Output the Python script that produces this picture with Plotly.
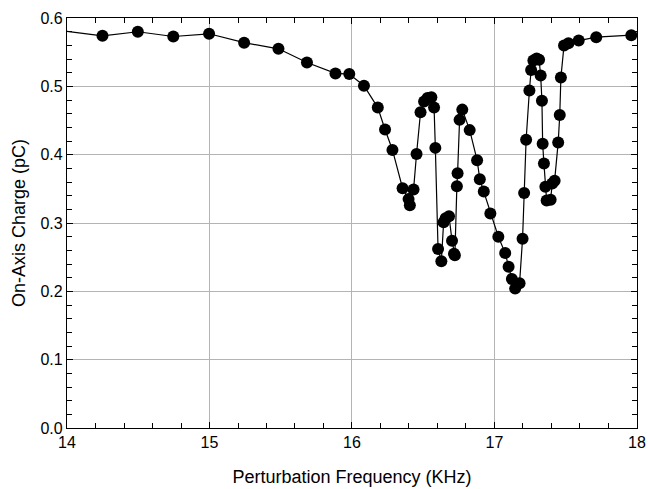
import plotly.graph_objects as go

freq_khz = [13.95, 14.249, 14.497, 14.746, 14.997, 15.243, 15.484, 15.684, 15.884, 15.981,
            16.084, 16.181, 16.232, 16.284, 16.355, 16.397, 16.406, 16.432, 16.453, 16.481,
            16.506, 16.530, 16.557, 16.576, 16.585, 16.604, 16.627, 16.643, 16.657, 16.681,
            16.702, 16.716, 16.722, 16.736, 16.741, 16.755, 16.774, 16.826, 16.878, 16.897,
            16.925, 16.971, 17.027, 17.075, 17.099, 17.122, 17.145, 17.176, 17.197, 17.208,
            17.222, 17.245, 17.257, 17.273, 17.296, 17.313, 17.324, 17.333, 17.338, 17.347,
            17.357, 17.366, 17.394, 17.405, 17.422, 17.447, 17.458, 17.466, 17.488, 17.519,
            17.591, 17.714, 17.960]
charge_pc = [0.582, 0.574, 0.580, 0.573, 0.577, 0.564, 0.555, 0.535, 0.519, 0.518,
             0.501, 0.469, 0.437, 0.407, 0.351, 0.335, 0.326, 0.349, 0.401, 0.462,
             0.478, 0.483, 0.484, 0.469, 0.410, 0.262, 0.244, 0.301, 0.307, 0.310,
             0.274, 0.255, 0.253, 0.354, 0.373, 0.451, 0.466, 0.436, 0.392, 0.364,
             0.346, 0.314, 0.280, 0.256, 0.236, 0.218, 0.204, 0.212, 0.277, 0.344,
             0.422, 0.494, 0.524, 0.538, 0.541, 0.539, 0.516, 0.479, 0.416, 0.387,
             0.353, 0.333, 0.334, 0.358, 0.362, 0.418, 0.458, 0.513, 0.560, 0.563,
             0.567, 0.572, 0.575]
x_ticks = [14, 15, 16, 17, 18]
y_ticks = [0.0, 0.1, 0.2, 0.3, 0.4, 0.5, 0.6]

fig = go.Figure(go.Scatter(
    x=freq_khz, y=charge_pc, mode="lines+markers",
    line=dict(color="black", width=1.2),
    marker=dict(color="black", size=12),
    showlegend=False,
))

axis_common = dict(
    showline=True, linecolor="black", linewidth=1.2, mirror="ticks",
    ticks="inside", ticklen=6, tickcolor="black", tickwidth=1,
    showgrid=True, gridcolor="#b4b4b4", gridwidth=1, zeroline=False,
    tickfont=dict(family="Liberation Sans, Arial", size=16, color="black"),
    ticklabeloverflow="allow", automargin=False,
)

fig.update_xaxes(
    range=[14, 18.0001], tickmode="array", tickvals=x_ticks,
    ticktext=[str(v) for v in x_ticks],
    minor=dict(dtick=0.2, tick0=14, ticks="inside", ticklen=5, tickcolor="black", showgrid=False),
    title=dict(text="Perturbation Frequency (KHz)", standoff=20,
               font=dict(family="Liberation Sans, Arial", size=18, color="black")),
    **axis_common,
)
fig.update_yaxes(
    range=[0, 0.6001], tickmode="array", tickvals=y_ticks,
    ticktext=[f"{v:.1f}" for v in y_ticks],
    minor=dict(dtick=0.02, tick0=0, ticks="inside", ticklen=5, tickcolor="black", showgrid=False),
    title=dict(text="On-Axis Charge (pC)", standoff=10,
               font=dict(family="Liberation Sans, Arial", size=18, color="black")),
    **axis_common,
)

fig.update_layout(
    width=648, height=489,
    margin=dict(l=67, r=11, t=18, b=61, autoexpand=False),
    plot_bgcolor="white", paper_bgcolor="white",
)

fig.write_html("out.html")
